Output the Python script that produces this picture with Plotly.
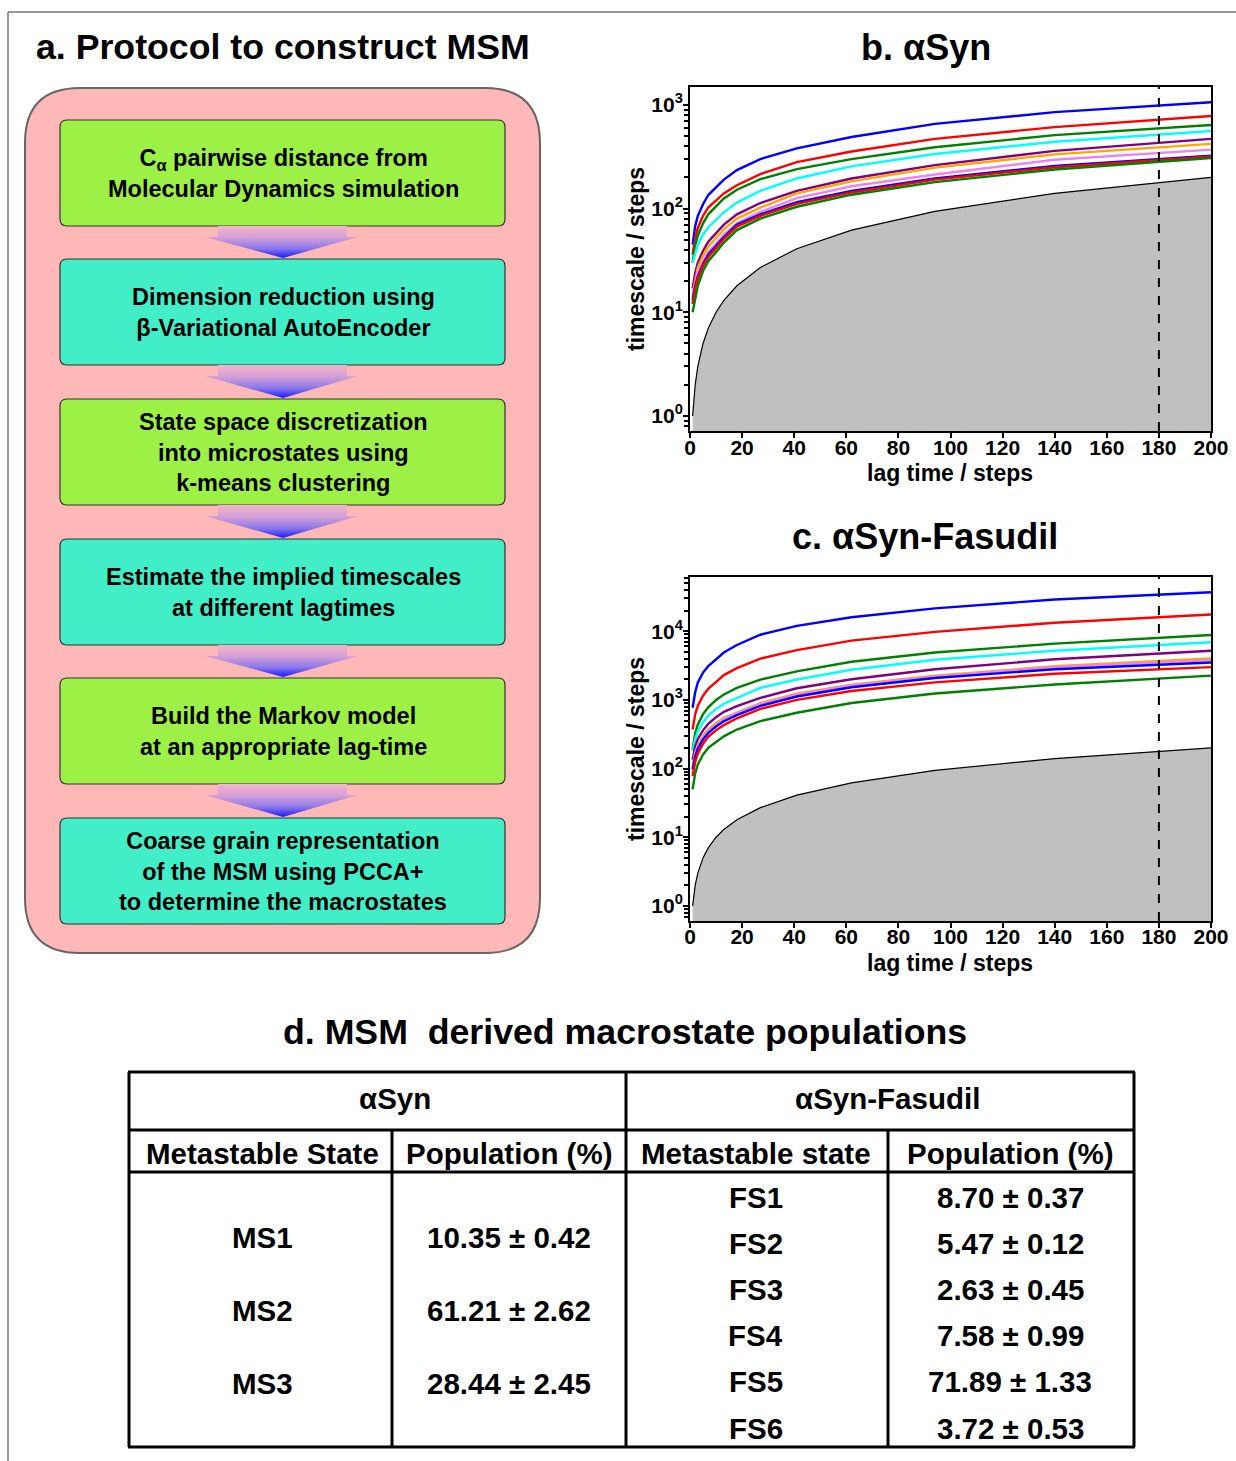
import plotly.graph_objects as go

W, H = 1236, 1461
FONT = "Liberation Sans, Arial, Helvetica, sans-serif"

# ---------------- data: implied timescales ----------------
lag = [1, 2, 3, 5, 7, 10, 13, 18, 27, 41, 62, 94, 140, 200]

# panel b: αSyn
b_blue_1 = [45, 68, 85, 110, 135, 160, 190, 235, 300, 380, 490, 655, 850, 1060]
b_red_1 = [36, 52, 65, 85, 102, 120, 140, 168, 215, 280, 355, 470, 610, 780]
b_green_1 = [30, 44, 55, 72, 88, 105, 125, 152, 192, 240, 300, 390, 510, 640]
b_cyan = [30, 38, 45, 56, 66, 78, 92, 114, 148, 195, 255, 336, 440, 560]
b_purple = [17, 24, 30, 39, 48, 58, 70, 88, 113, 148, 195, 262, 360, 470]
b_orange = [15, 21, 27, 35, 43, 52, 63, 80, 102, 140, 183, 248, 333, 420]
b_violet = [14, 19, 24, 31, 38, 46, 56, 72, 93, 126, 164, 213, 295, 370]
b_blue_2 = [13, 18, 22, 29, 36, 44, 53, 70, 88, 115, 148, 195, 258, 324]
b_red_2 = [12, 17, 21, 28, 34, 42, 51, 67, 85, 111, 143, 190, 250, 318]
b_green_2 = [10, 14, 18, 25, 31, 38, 47, 62, 80, 104, 136, 180, 238, 307]

# panel c: αSyn-Fasudil
c_blue_1 = [770, 1300, 1800, 2500, 3100, 3900, 4900, 6300, 8900, 12000, 16000, 21500, 29000, 37000]
c_red_1 = [370, 620, 820, 1150, 1450, 1850, 2300, 2900, 4000, 5300, 7300, 9800, 13300, 17500]
c_green_1 = [190, 330, 440, 620, 780, 1000, 1200, 1500, 1980, 2600, 3600, 4900, 6600, 8800]
c_cyan = [180, 270, 350, 470, 590, 740, 880, 1070, 1500, 1980, 2750, 3850, 5200, 6900]
c_purple = [135, 210, 270, 360, 450, 560, 670, 810, 1070, 1480, 2000, 2800, 3900, 5200]
c_orange = [108, 170, 220, 300, 370, 460, 550, 660, 900, 1230, 1670, 2250, 3100, 4000]
c_violet = [100, 160, 210, 285, 355, 440, 530, 640, 870, 1190, 1620, 2180, 3000, 3800]
c_blue_2 = [97, 150, 195, 265, 330, 410, 490, 600, 820, 1120, 1530, 2080, 2800, 3500]
c_red_2 = [78, 125, 165, 230, 290, 360, 430, 540, 740, 1000, 1350, 1800, 2400, 3000]
c_green_2 = [50, 85, 115, 160, 200, 245, 295, 370, 490, 650, 900, 1240, 1680, 2260]

selected_lag = 180

b_ticks = [1, 10, 100, 1000]
b_ticktext = ["10<sup>0</sup>", "10<sup>1</sup>", "10<sup>2</sup>", "10<sup>3</sup>"]
c_ticks = [1, 10, 100, 1000, 10000]
c_ticktext = ["10<sup>0</sup>", "10<sup>1</sup>", "10<sup>2</sup>", "10<sup>3</sup>", "10<sup>4</sup>"]
x_ticks = [0, 20, 40, 60, 80, 100, 120, 140, 160, 180, 200]

# ---------------- data: flowchart & table ----------------
steps = [
    "C<sub>α</sub> pairwise distance from<br>Molecular Dynamics simulation",
    "Dimension reduction using<br>β-Variational AutoEncoder",
    "State space discretization<br>into microstates using<br>k-means clustering",
    "Estimate the implied timescales<br>at different lagtimes",
    "Build the Markov model<br>at an appropriate lag-time",
    "Coarse grain representation<br>of the MSM using PCCA+<br>to determine the macrostates",
]
syn_states = ["MS1", "MS2", "MS3"]
syn_pops = ["10.35 ± 0.42", "61.21 ± 2.62", "28.44 ± 2.45"]
fas_states = ["FS1", "FS2", "FS3", "FS4", "FS5", "FS6"]
fas_pops = ["8.70 ± 0.37", "5.47 ± 0.12", "2.63 ± 0.45", "7.58 ± 0.99", "71.89 ± 1.33", "3.72 ± 0.53"]

COL = dict(blue="#0000ff", red="#ff0000", green="#008000", cyan="#00ffff",
           purple="#800080", orange="#ffa500", violet="#ee82ee")

b_series = [(b_blue_1, "blue"), (b_red_1, "red"), (b_green_1, "green"), (b_cyan, "cyan"),
            (b_purple, "purple"), (b_orange, "orange"), (b_violet, "violet"),
            (b_blue_2, "blue"), (b_red_2, "red"), (b_green_2, "green")]
c_series = [(c_blue_1, "blue"), (c_red_1, "red"), (c_green_1, "green"), (c_cyan, "cyan"),
            (c_purple, "purple"), (c_orange, "orange"), (c_violet, "violet"),
            (c_blue_2, "blue"), (c_red_2, "red"), (c_green_2, "green")]


def px(x):
    return x / W


def py(y):
    return 1 - y / H


fig = go.Figure()

# ---- timescale panels ----
for series, xa, ya in [(b_series, "x", "y"), (c_series, "x2", "y2")]:
    fig.add_trace(go.Scatter(x=lag, y=lag, mode="lines", fill="tozeroy",
                             fillcolor="#c0c0c0", line=dict(color="black", width=1.2),
                             xaxis=xa, yaxis=ya, showlegend=False, hoverinfo="skip"))
    for vals, cname in series:
        fig.add_trace(go.Scatter(x=lag, y=vals, mode="lines",
                                 line=dict(color=COL[cname], width=2.4),
                                 xaxis=xa, yaxis=ya, showlegend=False))
    fig.add_shape(type="line", xref=xa, yref=ya + " domain", x0=selected_lag, x1=selected_lag,
                  y0=0, y1=1, line=dict(color="black", width=2, dash="dash"))

axis_common = dict(showline=True, linecolor="black", linewidth=2, mirror=True,
                   ticks="outside", ticklen=5, tickwidth=2, tickcolor="black",
                   showgrid=False, zeroline=False, automargin=False,
                   tickfont=dict(family=FONT, size=21, color="black", weight="bold"))

xdom = [px(690), px(1211)]
fig.update_layout(
    xaxis=dict(domain=xdom, range=[0, 200], tickvals=x_ticks, anchor="y",
               ticklabelstandoff=-8, **axis_common),
    yaxis=dict(domain=[py(431), py(87)], type="log", range=[-0.145, 3.172],
               tickvals=b_ticks, ticktext=b_ticktext, anchor="x", ticklabelstandoff=-4,
               minor=dict(ticks="outside", ticklen=4, tickwidth=1.5, tickcolor="black", dtick="D1"),
               **axis_common),
    xaxis2=dict(domain=xdom, range=[0, 200], tickvals=x_ticks, anchor="y2",
                ticklabelstandoff=-9, **axis_common),
    yaxis2=dict(domain=[py(921), py(577)], type="log", range=[-0.22, 4.79],
                tickvals=c_ticks, ticktext=c_ticktext, anchor="x2", ticklabelstandoff=-4,
                minor=dict(ticks="outside", ticklen=4, tickwidth=1.5, tickcolor="black", dtick="D1"),
                **axis_common),
    xaxis3=dict(domain=[px(10), px(610)], range=[10, 610], visible=False, anchor="y3",
                fixedrange=True, automargin=False),
    yaxis3=dict(domain=[py(970), py(75)], range=[970, 75], visible=False, anchor="x3",
                fixedrange=True, automargin=False),
)


# ---- flowchart ----
def rrect(x0, y0, x1, y1, r):
    return (f"M {x0 + r},{y0} L {x1 - r},{y0} Q {x1},{y0} {x1},{y0 + r} "
            f"L {x1},{y1 - r} Q {x1},{y1} {x1 - r},{y1} L {x0 + r},{y1} "
            f"Q {x0},{y1} {x0},{y1 - r} L {x0},{y0 + r} Q {x0},{y0} {x0 + r},{y0} Z")


fig.add_shape(type="path", xref="x3", yref="y3", path=rrect(25, 88, 540, 953, 55),
              fillcolor="#ffb8b8", line=dict(color="#666666", width=2), layer="below")

box_tops = [120, 259, 399, 539, 678, 818]
box_h = 106
box_colors = ["#9cf046", "#42eec8"]
for i, (top, txt) in enumerate(zip(box_tops, steps)):
    fig.add_shape(type="path", xref="x3", yref="y3", path=rrect(60, top, 505, top + box_h, 7),
                  fillcolor=box_colors[i % 2], line=dict(color="#333333", width=1.2), layer="below")
    fig.add_annotation(x=283, y=top + box_h / 2, xref="x3", yref="y3", text=txt, showarrow=False,
                       font=dict(family=FONT, size=23.5, color="black", weight="bold"),
                       align="center", xanchor="center", yanchor="middle")

for i in range(len(box_tops) - 1):
    b = box_tops[i] + box_h
    t = box_tops[i + 1]
    xs = [218, 347, 347, 358, 283, 205, 218, 218]
    ys = [b, b, b + 11, b + 11, t - 1, b + 11, b + 11, b]
    fig.add_trace(go.Scatter(x=xs, y=ys, mode="lines", fill="toself", xaxis="x3", yaxis="y3",
                             line=dict(width=0, color="rgba(0,0,0,0)"),
                             fillgradient=dict(type="vertical",
                                               colorscale=[[0, "rgb(25,25,255)"],
                                                           [0.3, "rgb(140,120,235)"],
                                                           [0.65, "rgb(212,160,215)"],
                                                           [1, "rgb(244,182,202)"]]),
                             showlegend=False, hoverinfo="skip"))

# ---- titles & axis titles ----
def ann(x, y, text, size, xanchor="center", angle=0):
    fig.add_annotation(x=px(x), y=py(y), xref="paper", yref="paper", text=text, showarrow=False,
                       xanchor=xanchor, yanchor="middle", textangle=angle,
                       font=dict(family=FONT, size=size, color="black", weight="bold"))


ann(34, 47, "a. Protocol to construct MSM", 35.7, xanchor="left")
ann(926, 47, "b. αSyn", 36)
ann(925, 537, "c. αSyn-Fasudil", 36)
ann(625, 1032, "d. MSM  derived macrostate populations", 35.7)
for ymid, ylab in [(259, 473), (749, 963)]:
    ann(636, ymid, "timescale / steps", 23, angle=-90)
    ann(950, ylab, "lag time / steps", 23)

# ---- table ----
tl = dict(color="black", width=3)
for (x0, y0, x1, y1) in [(128, 1072, 1135, 1072), (128, 1130, 1135, 1130), (128, 1172, 1135, 1172),
                         (128, 1447, 1135, 1447), (129, 1072, 129, 1447), (1134, 1072, 1134, 1447),
                         (626, 1072, 626, 1447), (392, 1130, 392, 1447), (888, 1130, 888, 1447)]:
    fig.add_shape(type="line", xref="paper", yref="paper", x0=px(x0), y0=py(y0), x1=px(x1), y1=py(y1),
                  line=tl)

TS = 29.5
ann(395, 1098, "αSyn", TS)
ann(887, 1098, "αSyn-Fasudil", TS)
ann(262, 1153, "Metastable State", TS)
ann(509, 1153, "Population (%)", TS)
ann(756, 1153, "Metastable state", TS)
ann(1010, 1153, "Population (%)", TS)
for i, (s, p) in enumerate(zip(syn_states, syn_pops)):
    yy = 1237 + 73 * i
    ann(262, yy, s, TS)
    ann(509, yy, p, TS)
for i, (s, p) in enumerate(zip(fas_states, fas_pops)):
    yy = 1197 + 46.2 * i
    ann(756, yy, s, TS)
    ann(1010, yy, p, TS)

# ---- outer frame lines ----
fr = dict(color="#777777", width=1.5)
fig.add_shape(type="line", xref="paper", yref="paper", x0=px(8), y0=py(12), x1=1, y1=py(12), line=fr)
fig.add_shape(type="line", xref="paper", yref="paper", x0=px(8), y0=py(12), x1=px(8), y1=0, line=fr)

fig.update_layout(width=W, height=H, margin=dict(l=0, r=0, t=0, b=0), autosize=False,
                  paper_bgcolor="white", plot_bgcolor="white", showlegend=False,
                  font=dict(family=FONT, color="black"))

fig.write_html("out.html", config={"responsive": False})
